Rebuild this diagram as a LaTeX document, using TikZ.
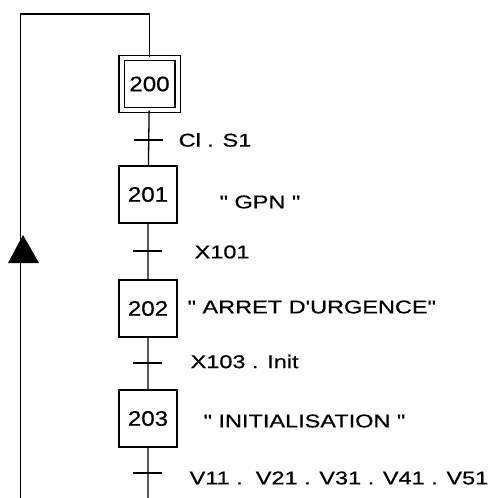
\documentclass[tikz,border=0pt]{standalone}
\usepackage{fontspec}
\setmainfont{Liberation Sans}
\newfontfamily\numfont[FakeStretch=1.15,FakeBold=0.6]{Liberation Sans}
\newfontfamily\lblfont[FakeStretch=1.27,FakeBold=0.6]{Liberation Sans}
\begin{document}
\begin{tikzpicture}[x=1pt,y=-1pt,line width=1.3pt,
  stepbox/.style={draw,minimum width=58pt,minimum height=57pt,inner sep=0pt,font=\numfont\fontsize{21}{21}\selectfont},
  initbox/.style={stepbox,double,double distance=4pt,minimum width=56pt,minimum height=52pt},
  lbl/.style={anchor=west,inner sep=0pt,font=\lblfont\fontsize{18.5}{18.5}\selectfont},
  tick/.style={line width=1.3pt}]
\useasboundingbox (0,0) rectangle (490,498);
\node[initbox] (s200) at (149.5,84) {200};
\node[stepbox] (s201) at (148,194.5) {201};
\node[stepbox] (s202) at (148,308.5) {202};
\node[stepbox] (s203) at (148,418.5) {203};
\coordinate (t1) at (149,140);
\coordinate (t2) at (148,251);
\coordinate (t3) at (148,363);
\coordinate (t4) at (148,473);
\coordinate (bot) at (148,498);
\coordinate (lbot) at (20.5,498);
\coordinate (ltop) at (20.5,14);
\coordinate (rtop) at (149.5,14);
\draw (s200) -- (s201) (s201) -- (s202) (s202) -- (s203) (s203.south) -- (bot);
\draw (lbot) -- (ltop) -- (rtop) -- (s200.north);
\foreach \t in {t1,t2,t3,t4} \draw[tick] ([xshift=-15pt]\t) -- ([xshift=14pt]\t);
\fill (23,235) -- (39,263) -- (8,263) -- cycle;
\node[lbl] (c1) at (178,140) {Cl . S1};
\node[lbl] (a1) at (219,202) {" GPN "};
\node[lbl] (c2) at (194,252) {X101};
\node[lbl] (a2) at (187,307) {" ARRET D'URGENCE"};
\node[lbl] (c3) at (190,361.5) {X103 . Init};
\node[lbl] (a3) at (203,421) {" INITIALISATION "};
\node[lbl] (c4) at (189,478) {V11 .\ \ V21 . V31 . V41 . V51};
\end{tikzpicture}
\end{document}
